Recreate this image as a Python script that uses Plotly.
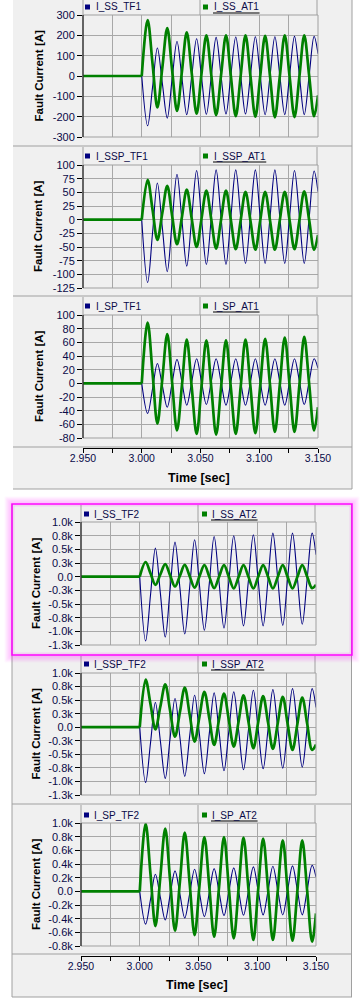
import plotly.graph_objects as go

W, H = 363, 1001

# ---------------- data ----------------
time_s = [2.950, 3.000, 3.0050, 3.0092, 3.0133, 3.0175, 3.0217, 3.0258, 3.0300, 3.0342,
          3.0383, 3.0425, 3.0467, 3.0508, 3.0550, 3.0592, 3.0633, 3.0675, 3.0717, 3.0758,
          3.0800, 3.0842, 3.0883, 3.0925, 3.0967, 3.1008, 3.1050, 3.1092, 3.1133, 3.1175,
          3.1217, 3.1258, 3.1300, 3.1342, 3.1383, 3.1425, 3.1467, 3.1500]

i_ss_tf1 = [0, 0, -245, -55, 138, -35, -207, -18, 170, -10, -190, -3, 183, -2, -188, 0, 190, 0,
            -187, 2, 192, 2, -187, 3, 193, 3, -190, 2, 193, 2, -190, 2, 195, 2, -190, 3, 195, 110]
i_ss_at1 = [0, 0, 275, 60, -155, 40, 235, 32, -172, 22, 215, 15, -185, 8, 200, 4, -192, 4,
            200, 2, -197, 2, 200, 0, -200, -2, 197, -3, -203, -2, 200, -1, -202, -1, 200, 1, -198, -95]

i_ssp_tf1 = [0, 0, -115, -24, 67, -14, -95, -6, 83, -1, -85, 2, 90, 4, -82, 4, 91, 4,
             -82, 4, 91, 5, -80, 5, 91, 5, -80, 5, 91, 5, -80, 5, 90, 5, -80, 4, 89, 51]
i_ssp_at1 = [0, 0, 73, 18, -37, 12, 62, 8, -45, 5, 55, 2, -50, 1, 53, 0, -53, 0,
             53, 0, -54, -1, 51, -2, -55, -2, 51, -2, -55, -1, 51, -1, -54, -1, 52, -1, -55, -28]

i_sp_tf1 = [0, 0, -44, -8, 29, -3, -35, 0, 35, 2, -32, 2, 36, 3, -31, 3, 36, 2,
            -32, 2, 36, 2, -32, 2, 36, 2, -32, 2, 36, 2, -32, 2, 36, 3, -31, 3, 36, 22]
i_sp_at1 = [0, 0, 89, 15, -59, 6, 72, 2, -69, -3, 64, -5, -74, -6, 63, -6, -75, -6,
            63, -6, -74, -5, 64, -5, -73, -4, 65, -3, -71, -2, 67, -2, -71, -2, 68, -1, -69, -35]

i_ss_tf2 = [0, 0, -1175, -327, 522, -292, -1105, -237, 632, -209, -1050, -188, 675, -153, -980, -122, 736, -102,
            -940, -96, 748, -76, -900, -67, 766, -67, -900, -52, 796, -47, -890, -47, 796, -37, -870, -37, 796, 400]
i_ss_at2 = [0, 0, 265, 57, -150, 40, 230, 25, -180, 17, 215, 8, -200, 5, 210, 0, -210, 0,
            210, -2, -215, -2, 210, -2, -215, -2, 210, -2, -215, -2, 210, -2, -215, -2, 210, 0, -210, -150]

i_ssp_tf2 = [0, 0, -1018, -281, 456, -244, -944, -208, 529, -189, -907, -159, 590, -134, -858, -113, 633, -85,
             -803, -76, 651, -67, -785, -52, 682, -43, -767, -37, 694, -31, -755, -22, 712, -12, -736, -12, 712, 364]
i_ssp_at2 = [0, 0, 878, 419, -40, 376, 792, 309, -174, 279, 731, 233, -265, 194, 652, 163, -327, 147,
             621, 132, -357, 117, 590, 101, -388, 92, 572, 86, -400, 80, 560, 71, -418, 65, 548, 65, -418, -320]

i_sp_tf2 = [0, 0, -480, -115, 250, -85, -420, -60, 299, -45, -390, -33, 323, -23, -370, -18, 333, -11,
            -355, -6, 343, -3, -350, 4, 358, 6, -345, 11, 367, 11, -345, 13, 372, 13, -345, 18, 382, 210]
i_sp_at2 = [0, 0, 990, 241, -508, 205, 917, 171, -576, 142, 859, 110, -640, 78, 795, 66, -664, 66,
            795, 54, -688, 49, 786, 37, -712, 30, 771, 30, -712, 18, 747, 13, -722, 13, 747, 5, -737, -323]

series_names = [("I_SS_TF1", "I_SS_AT1"), ("I_SSP_TF1", "I_SSP_AT1"), ("I_SP_TF1", "I_SP_AT1"),
                ("I_SS_TF2", "I_SS_AT2"), ("I_SSP_TF2", "I_SSP_AT2"), ("I_SP_TF2", "I_SP_AT2")]
series_tf = [i_ss_tf1, i_ssp_tf1, i_sp_tf1, i_ss_tf2, i_ssp_tf2, i_sp_tf2]
series_at = [i_ss_at1, i_ssp_at1, i_sp_at1, i_ss_at2, i_ssp_at2, i_sp_at2]

x_tickvals = [2.950, 2.975, 3.000, 3.025, 3.050, 3.075, 3.100, 3.125, 3.150]
x_label_vals = [2.950, 3.000, 3.050, 3.100, 3.150]
x_label_text = ["2.950", "3.000", "3.050", "3.100", "3.150"]

y_ticks_1 = [-300, -200, -100, 0, 100, 200, 300]
y_text_1 = ["-300", "-200", "-100", "0", "100", "200", "300"]
y_ticks_2 = [-125, -100, -75, -50, -25, 0, 25, 50, 75, 100]
y_text_2 = ["-125", "-100", "-75", "-50", "-25", "0", "25", "50", "75", "100"]
y_ticks_3 = [-80, -60, -40, -20, 0, 20, 40, 60, 80, 100]
y_text_3 = ["-80", "-60", "-40", "-20", "0", "20", "40", "60", "80", "100"]
y_ticks_4 = [-1250, -1000, -750, -500, -250, 0, 250, 500, 750, 1000]
y_text_4 = ["-1.3k", "-1.0k", "-0.8k", "-0.5k", "-0.3k", "0.0", "0.3k", "0.5k", "0.8k", "1.0k"]
y_ticks_6 = [-800, -600, -400, -200, 0, 200, 400, 600, 800, 1000]
y_text_6 = ["-0.8k", "-0.6k", "-0.4k", "-0.2k", "0.0", "0.2k", "0.4k", "0.6k", "0.8k", "1.0k"]

y_axes = [(y_ticks_1, y_text_1), (y_ticks_2, y_text_2), (y_ticks_3, y_text_3),
          (y_ticks_4, y_text_4), (y_ticks_4, y_text_4), (y_ticks_6, y_text_6)]

# ---------------- layout geometry (pixels) ----------------
geom = [
    dict(x0=83, x1=318, y0=15, y1=137, leg_top=0, leg_y=7, div=(83, 200, 317), mk1=85, tx1=95, mk2=203, tx2=213, ytx=38.5),
    dict(x0=83, x1=318, y0=165, y1=288, leg_top=147, leg_y=156, div=(83, 200, 317), mk1=85, tx1=95, mk2=203, tx2=213, ytx=38.5),
    dict(x0=83, x1=318, y0=315, y1=438, leg_top=297, leg_y=306, div=(83, 200, 317), mk1=85, tx1=95, mk2=203, tx2=213, ytx=38.5,
         ax_y=448, lab_y=450, title_y=478),
    dict(x0=81, x1=316, y0=522, y1=645, leg_top=505, leg_y=514, div=(81, 198, 315), mk1=84, tx1=93, mk2=202, tx2=211, ytx=35.5),
    dict(x0=81, x1=316, y0=673, y1=795, leg_top=656, leg_y=664, div=(81, 198, 315), mk1=84, tx1=93, mk2=202, tx2=211, ytx=35.5),
    dict(x0=81, x1=316, y0=823, y1=946, leg_top=805, leg_y=815, div=(81, 198, 315), mk1=84, tx1=93, mk2=202, tx2=211, ytx=35.5,
         ax_y=956, lab_y=958, title_y=985),
]

NAVY = "#00007f"
GREEN = "#008000"
GRID = "#a8a8a8"
FRAME = "#a0a0a0"
BG = "#f0f0f0"
TXT = "#0a0a48"
FONT = "Liberation Sans, Arial, sans-serif"
LEG_SIZE = 10

CHAR_W = {"I": 278, "_": 556, "S": 667, "P": 667, "T": 611, "F": 611, "A": 667, "1": 556, "2": 556}


def text_w(s, size):
    return sum(CHAR_W.get(c, 556) for c in s) / 1000.0 * size


def fx(x):
    return x / W


def fy(y):
    return 1 - y / H


shapes = []
annotations = []


def line(x0, y0, x1, y1, color, width=1, layer="above"):
    shapes.append(dict(type="line", xref="paper", yref="paper", x0=fx(x0), y0=fy(y0), x1=fx(x1), y1=fy(y1),
                       line=dict(color=color, width=width), layer=layer))


def rect(x0, y0, x1, y1, fill="rgba(0,0,0,0)", color="rgba(0,0,0,0)", width=0, layer="above"):
    shapes.append(dict(type="rect", xref="paper", yref="paper", x0=fx(x0), y0=fy(y0), x1=fx(x1), y1=fy(y1),
                       fillcolor=fill, line=dict(color=color, width=width), layer=layer))


# group backgrounds
rect(13, 0, 352, 489, fill=BG, layer="below")
rect(12, 504, 352, 997, fill=BG, layer="below")

# frame lines
line(352, 0, 352, 489, FRAME)
line(13, 489, 352, 489, FRAME)
line(12, 504, 12, 997, FRAME)
line(351.5, 504, 351.5, 997, FRAME)
line(12, 997, 352, 997, FRAME)
for ys, xa, xb in [(146, 13, 352), (296, 13, 352), (447, 13, 352), (804, 12, 352), (954, 12, 352)]:
    line(xa, ys, xb, ys, FRAME)

fig = go.Figure()
label_axis_n = 7

for i, g in enumerate(geom):
    k = i + 1
    tf, at = series_tf[i], series_at[i]
    for vals, col, wd in [(tf, NAVY, 1.1), (at, GREEN, 2.7)]:
        fig.add_trace(go.Scatter(x=time_s[:2], y=vals[:2], mode="lines", line=dict(color=col, width=wd),
                                 xaxis=f"x{k}", yaxis=f"y{k}", showlegend=False, hoverinfo="skip"))
        fig.add_trace(go.Scatter(x=time_s[1:], y=vals[1:], mode="lines",
                                 line=dict(color=col, width=wd, shape="spline", smoothing=1.0),
                                 xaxis=f"x{k}", yaxis=f"y{k}", showlegend=False, hoverinfo="skip"))

    yt, ytt = y_axes[i]
    has_x = "ax_y" in g
    xa = dict(domain=[fx(g["x0"]), fx(g["x1"])], range=[2.95, 3.15], tickvals=x_tickvals,
              showgrid=True, gridcolor=GRID, gridwidth=1, zeroline=False, fixedrange=True, automargin=False,
              showticklabels=False)
    if has_x:
        xa.update(anchor="free", position=fy(g["ax_y"]),
                  ticks="outside", ticklen=4, tickcolor="black", tickwidth=1,
                  showline=True, linecolor="black", linewidth=1)
        # label-only companion axis (same scale) so labels sit close to the tick marks
        n = label_axis_n
        label_axis_n += 1
        fig.update_layout(**{f"xaxis{n}": dict(
            domain=[fx(g["x0"]), fx(g["x1"])], range=[2.95, 3.15], overlaying=f"x{k}",
            anchor="free", position=fy(g["lab_y"]), side="bottom",
            tickvals=x_label_vals, ticktext=x_label_text, ticks="", showline=False, showgrid=False,
            zeroline=False, fixedrange=True, automargin=False,
            tickfont=dict(family=FONT, size=10.5, color=TXT))})
        fig.add_trace(go.Scatter(x=[], y=[], xaxis=f"x{n}", yaxis=f"y{k}", showlegend=False, hoverinfo="skip"))
    else:
        xa.update(anchor=f"y{k}", ticks="", showline=False)
    ya = dict(domain=[fy(g["y1"]), fy(g["y0"])], range=[yt[0], yt[-1]], tickvals=yt, ticktext=ytt,
              anchor=f"x{k}", showgrid=True, gridcolor=GRID, gridwidth=1, zeroline=False,
              ticks="outside", ticklen=5, tickcolor="black", tickwidth=1, showline=False,
              tickfont=dict(family=FONT, size=11, color=TXT), fixedrange=True, automargin=False)
    fig.update_layout(**{f"xaxis{k}": xa, f"yaxis{k}": ya})

    # plot frame
    rect(g["x0"], g["y0"], g["x1"], g["y1"], color=FRAME, width=1)
    line(g["x0"], g["y0"], g["x0"], g["y1"], "black", 1)

    # legend row
    for dx in g["div"]:
        line(dx, g["leg_top"], dx, g["y0"], FRAME)
    ly = g["leg_y"]
    rect(g["mk1"], ly - 2.5, g["mk1"] + 5, ly + 2.5, fill=NAVY)
    rect(g["mk2"], ly - 2.5, g["mk2"] + 5, ly + 2.5, fill=GREEN)
    n1, n2 = series_names[i]
    annotations.append(dict(x=fx(g["tx1"] - 1), y=fy(ly), xref="paper", yref="paper", text=n1,
                            showarrow=False, xanchor="left", yanchor="middle",
                            font=dict(family=FONT, size=LEG_SIZE, color=TXT)))
    annotations.append(dict(x=fx(g["tx2"] - 1), y=fy(ly), xref="paper", yref="paper", text=n2,
                            showarrow=False, xanchor="left", yanchor="middle",
                            font=dict(family=FONT, size=LEG_SIZE, color=TXT)))
    line(g["tx2"], ly + 6, g["tx2"] + text_w(n2, LEG_SIZE) + 1, ly + 6, "black", 1)

    # y title
    annotations.append(dict(x=fx(g["ytx"]), y=fy((g["y0"] + g["y1"]) / 2), xref="paper", yref="paper",
                            text="<b>Fault Current [A]</b>", textangle=-90, showarrow=False,
                            xanchor="center", yanchor="middle", font=dict(family=FONT, size=11.5, color="black")))
    if has_x:
        annotations.append(dict(x=fx((g["x0"] + g["x1"]) / 2 - 2), y=fy(g["title_y"]), xref="paper", yref="paper",
                                text="<b>Time [sec]</b>", showarrow=False, xanchor="center", yanchor="middle",
                                font=dict(family=FONT, size=12.5, color="black")))

# pink highlight box with glow
for d in range(1, 8):
    a = 0.30 * (1 - d / 8.0)
    rect(12 - d, 504 - d, 352 + d, 655 + d, color=f"rgba(255,0,255,{a:.3f})", width=1)
for d in range(1, 3):
    rect(12 + d, 504 + d, 352 - d, 655 - d, color="rgba(255,0,255,0.12)", width=1)
rect(12, 504, 352, 655, color="#ff00ff", width=1.5)

fig.update_layout(template="none", width=W, height=H, margin=dict(l=0, r=0, t=0, b=0, pad=0),
                  autosize=False, paper_bgcolor="white", plot_bgcolor="white",
                  shapes=shapes, annotations=annotations, showlegend=False,
                  font=dict(family=FONT))

fig.write_html("out.html", config={"displayModeBar": False},
               post_script="document.body.style.margin='0';document.body.style.padding='0';"
                           "document.body.style.overflow='hidden';")
